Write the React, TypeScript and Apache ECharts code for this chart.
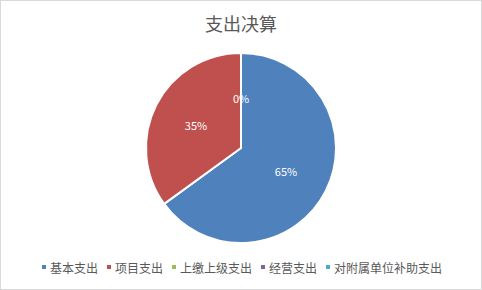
import React, { useEffect, useRef } from "react";
import * as echarts from "echarts";

const categories = ["基本支出", "项目支出", "上缴上级支出", "经营支出", "对附属单位补助支出"];
const values = [65, 35, 0, 0, 0];
const colors = ["#4F81BD", "#C0504D", "#9BBB59", "#8064A2", "#4BACC6"];
const titleText = "支出决算";

export default function App() {
  const ref = useRef<HTMLDivElement>(null);
  useEffect(() => {
    if (!ref.current) return;
    const chart = echarts.init(ref.current, undefined, { renderer: "svg" });
    chart.setOption({
      animation: false,
      color: colors,
      title: {
        text: titleText,
        left: "center",
        top: 8,
        textStyle: {
          fontFamily: "Noto Sans CJK SC",
          fontSize: 18,
          fontWeight: "normal",
          color: "#595959",
        },
      },
      legend: {
        bottom: 11,
        left: "center",
        itemWidth: 6,
        itemHeight: 6,
        itemGap: 7,
        icon: "rect",
        textStyle: {
          fontFamily: "Noto Sans CJK SC",
          fontSize: 12,
          color: "#595959",
          padding: [0, 0, 0, -2],
        },
        data: categories,
      },
      series: [
        {
          type: "pie",
          center: [240, 147],
          radius: 95,
          startAngle: 90,
          clockwise: true,
          avoidLabelOverlap: false,
          data: categories.map((c, i) => ({ name: c, value: values[i] })),
          itemStyle: { borderColor: "#ffffff", borderWidth: 2 },
          label: {
            show: true,
            position: "inside",
            formatter: "{d}%",
            color: "#ffffff",
            fontSize: 11,
            fontFamily: "Noto Sans CJK SC",
          },
          labelLine: { show: false },
          emphasis: { disabled: true },
        },
      ],
    });
    return () => chart.dispose();
  }, []);
  return (
    <div
      ref={ref}
      style={{
        position: "fixed",
        left: 0,
        top: 0,
        width: 482,
        height: 290,
        boxSizing: "border-box",
        border: "1px solid #d9d9d9",
        background: "#fff",
      }}
    />
  );
}
